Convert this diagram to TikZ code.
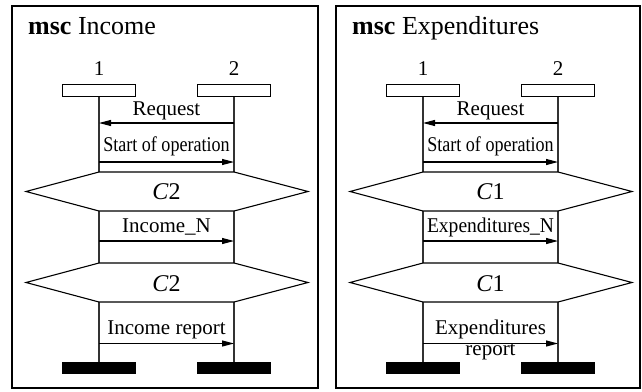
\documentclass[tikz,border=0pt]{standalone}
\usepackage{fontspec}
\setmainfont{Liberation Serif}
\usetikzlibrary{arrows.meta}

% One message sequence chart: #1 name prefix, #2 title, #3 condition,
% #4 middle message, #5 report text above the arrow, #6 report text below it
\newcommand\mscchart[6]{%
  \node[ttl] (#1title) at (28,34) {\textbf{msc} #2};
  \node[lbl] (#1n1) at (99,75) {1};
  \node[lbl] (#1n2) at (234,75) {2};
  \node[head] (#1h1) at (99,90.5) {};
  \node[head] (#1h2) at (234,90.5) {};
  \node[tail] (#1t1) at (99,368) {};
  \node[tail] (#1t2) at (234,368) {};
  \draw[life] (#1h1.south) -- (#1t1.north);
  \draw[life] (#1h2.south) -- (#1t2.north);
  % message rows
  \coordinate (#1r1) at (0,123);
  \coordinate (#1r2) at (0,162);
  \coordinate (#1r3) at (0,241);
  \coordinate (#1r4) at (0,343.5);
  \draw[msg] (#1h2.south |- #1r1) -- (#1h1.south |- #1r1);
  \node[lbl] (#1m1) at (166.5,115) {Request};
  \draw[msg] (#1h1.south |- #1r2) -- (#1h2.south |- #1r2);
  \node[lbl] (#1m2) at (166.5,151) {\scalebox{0.86}[1]{Start of operation}};
  \draw[msg] (#1h1.south |- #1r3) -- (#1h2.south |- #1r3);
  \node[lbl] (#1m3) at (166.5,232) {#4};
  \draw[msg] (#1h1.south |- #1r4) -- (#1h2.south |- #1r4);
  \node[lbl] (#1m4) at (166.5,334) {#5};
  \node[lbl] (#1m5) at (166.5,355) {#6};
  % conditions
  \draw[cond] (99,172) -- (234,172) -- (308,191.5) -- (234,211) -- (99,211) -- (26,191.5) -- cycle;
  \node[clbl] (#1c1) at (166.5,199) {\textit{C}#3};
  \draw[cond] (99,263) -- (234,263) -- (308,282.5) -- (234,302) -- (99,302) -- (26,282.5) -- cycle;
  \node[clbl] (#1c2) at (166.5,291) {\textit{C}#3};
}

\begin{document}
\begin{tikzpicture}[x=1pt,y=-1pt,
  frame/.style={draw,line width=2pt},
  head/.style={draw,line width=1.3pt,minimum width=73pt,minimum height=12pt,inner sep=0pt,fill=white},
  tail/.style={fill=black,minimum width=74pt,minimum height=12pt,inner sep=0pt},
  life/.style={line width=1.4pt,draw=black!80},
  msg/.style={line width=1.1pt,-{Triangle[length=12pt,width=6pt]}},
  cond/.style={draw,line width=1.1pt,fill=white},
  lbl/.style={font=\fontsize{21}{23}\selectfont,inner sep=0pt,anchor=base},
  clbl/.style={font=\fontsize{24}{26}\selectfont,inner sep=0pt,anchor=base},
  ttl/.style={font=\fontsize{26}{28}\selectfont,inner sep=0pt,anchor=base west},
]
\useasboundingbox (0,0) rectangle (642,391);
\draw[frame] (12,6) rectangle (318,388);
\draw[frame] (336,6) rectangle (640,388);
\mscchart{a}{Income}{2}{Income\_N}{Income report}{}
\begin{scope}[xshift=324pt]
\mscchart{b}{Expenditures}{1}{\scalebox{0.93}[1]{Expenditures\_N}}{Expenditures}{report}
\end{scope}
\end{tikzpicture}
\end{document}
